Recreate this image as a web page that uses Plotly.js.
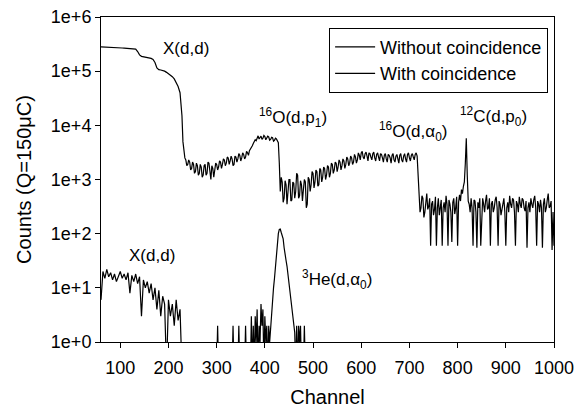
<!DOCTYPE html>
<html>
<head>
<meta charset="utf-8">
<script src="https://cdn.plot.ly/plotly-3.0.1.min.js"></script>
<style>html,body{margin:0;padding:0;background:#fff;}#chart{width:582px;height:408px;}</style>
</head>
<body>
<div id="chart"></div>
<script>
// ---- Without coincidence ----
// plateau region (X(d,d) elastic), channels 60-228
const chanPlateau = [
60,64,68,72,76,80,84,88,92,96,
100,104,108,112,116,120,124,128,132,136,
140,144,148,152,156,160,164,168,172,176,
180,184,188,192,196,200,204,208,212,216,
220,224,228];
const countsPlateau = [
280000,278000,277000,276000,275000,275000,274000,273000,272000,271000,
270000,268000,267000,265000,264000,263000,262000,260000,255000,230000,
200000,188000,185000,182000,180000,177000,172000,165000,145000,115000,
107000,105000,103000,100000,95000,90000,85000,79000,72000,63000,
52000,40000,15000];
// middle region, channels 230-720
const chanMiddle = [
230,232,234,236,238,240,242,244,246,248,
250,252,254,256,258,260,262,264,266,268,
270,272,274,276,278,280,282,284,286,288,
290,292,294,296,298,300,302,304,306,308,
310,312,314,316,318,320,322,324,326,328,
330,332,334,336,338,340,342,344,346,348,
350,352,354,356,358,360,362,364,366,368,
370,372,374,376,378,380,382,384,386,388,
390,392,394,396,398,400,402,404,406,408,
410,412,414,416,418,420,422,424,426,428,
430,432,434,436,438,440,442,444,446,448,
450,452,454,456,458,460,462,464,466,468,
470,472,474,476,478,480,482,484,486,488,
490,492,494,496,498,500,502,504,506,508,
510,512,514,516,518,520,522,524,526,528,
530,532,534,536,538,540,542,544,546,548,
550,552,554,556,558,560,562,564,566,568,
570,572,574,576,578,580,582,584,586,588,
590,592,594,596,598,600,602,604,606,608,
610,612,614,616,618,620,622,624,626,628,
630,632,634,636,638,640,642,644,646,648,
650,652,654,656,658,660,662,664,666,668,
670,672,674,676,678,680,682,684,686,688,
690,692,694,696,698,700,702,704,706,708,
710,712,714,716,718,720];
const countsMiddle = [
5000,2900,2500,2300,1800,1900,2300,2100,1500,1600,
2100,1900,1300,1400,2000,1800,1200,1300,1900,1700,
1100,1200,1800,1900,1200,1300,2100,2000,1300,1000,
1800,1600,1100,1400,2000,1900,1500,1700,2200,2100,
1600,1900,2400,2300,1800,2000,2600,2500,1900,2200,
2700,2400,1800,1900,2700,2600,2100,2400,3000,2800,
2200,2500,3100,2900,2400,2600,3300,3100,2800,3400,
3600,3900,4200,4600,5000,5400,5200,5900,6400,5600,
5900,6300,5500,5800,6500,6200,5400,5700,6300,6100,
5300,5500,6000,5900,5100,5300,5800,5600,5000,4800,
2000,600,1100,900,380,450,950,800,350,550,
1000,1000,400,420,900,850,450,600,1300,1200,
450,500,950,800,400,650,1000,900,300,350,
1100,1000,600,800,1400,1300,700,900,1500,1400,
750,800,1600,1500,900,1100,1700,1600,1000,1200,
1800,1700,1100,1300,2000,1900,1300,1500,2100,2000,
1400,1700,2300,2100,1500,1800,2400,2200,1600,1900,
2600,2400,1800,2000,2700,2500,1900,2100,2900,2600,
2000,2300,3100,2800,2300,3100,3300,2600,2400,3000,
3200,2700,2200,3100,3000,2600,2300,3000,3200,2500,
2200,2900,3100,2600,2200,3000,2900,2500,2100,2800,
3000,2400,2100,2900,2800,2500,2000,2800,3000,2300,
2100,2700,2900,2400,2000,2800,3000,2300,2100,2700,
3000,2400,2100,2900,3100,2500,2200,2800,3000,2600,
2300,2900,3100,2700,1200,450];
// high-channel region incl. 12C(d,p0), channels 722-1000
const chanHigh = [
722,724,726,728,730,732,734,736,738,740,
742,744,746,748,750,752,754,756,758,760,
762,764,766,768,770,772,774,776,778,780,
782,784,786,788,790,792,794,796,798,800,
802,804,806,808,810,812,814,816,818,820,
822,824,826,828,830,832,834,836,838,840,
842,844,846,848,850,852,854,856,858,860,
862,864,866,868,870,872,874,876,878,880,
882,884,886,888,890,892,894,896,898,900,
902,904,906,908,910,912,914,916,918,920,
922,924,926,928,930,932,934,936,938,940,
942,944,946,948,950,952,954,956,958,960,
962,964,966,968,970,972,974,976,978,980,
982,984,986,988,990,992,994,996,998,1000];
const countsHigh = [
250,300,500,450,200,250,400,550,280,320,
450,60,350,400,220,280,480,60,300,450,
220,300,420,60,300,380,250,500,350,60,
420,350,250,70,380,450,230,300,480,60,
380,520,400,650,550,750,900,2000,5800,1200,
400,350,250,450,300,60,420,400,250,55,
380,300,450,60,300,450,350,250,400,520,
280,300,450,60,350,400,250,300,420,480,
300,60,400,350,220,280,380,450,250,60,
300,380,250,500,350,300,450,420,250,60,
400,350,250,480,350,300,450,420,300,260,
400,55,300,380,250,450,350,300,420,500,
300,60,400,350,250,420,300,55,350,450,
250,300,420,550,300,320,400,50,250,60];

// ---- With coincidence (values below 1 = empty channels) ----
const chanWith = [
60,62,64,68,72,76,80,84,88,92,96,100,104,108,112,116,120,124,128,132,
136,140,144,148,152,156,160,164,168,172,176,180,184,188,192,196,200,204,208,212,
216,220,224,226,228,
300,302,304,332,334,336,344,346,348,358,360,362,370,372,374,376,378,380,382,384,
386,388,390,392,394,396,398,400,402,404,406,408,410,412,414,416,418,420,422,424,
426,428,430,432,434,436,438,440,442,444,446,448,450,452,454,456,458,460,462,464,
466,468,470,472,474,476,480,482,484];
const countsWith = [
6,12,20,15,22,16,19,14,18,13,17,20,15,18,14,19,8,17,13,18,
12,16,3,14,10,13,8,12,6,10,4,9,3,7,5,0.3,6,3,5,2,
6,2.5,4,1.7,0.3,
0.3,2,0.3,0.3,2,0.3,0.3,2,0.3,0.3,2,0.3,0.3,3,0.3,2,0.3,3,1,4,
0.3,2,1,5,2,4,0.3,3,1,2,0.3,2,1,2,3,6,10,15,25,45,
70,100,120,122,105,95,80,55,45,32,25,18,12,8,6,4.5,3,2,1.5,0.3,
2,0.3,2,1,2,0.3,0.3,2,0.3];

const xTicks = [100,200,300,400,500,600,700,800,900,1000];
const yTickVals = [1,10,100,1000,10000,100000,1000000];
const yTickText = ['1e+0','1e+1','1e+2','1e+3','1e+4','1e+5','1e+6'];

const FONT = 'Liberation Sans, Arial, sans-serif';

const chanWithout = chanPlateau.concat(chanMiddle, chanHigh);
const countsWithout = countsPlateau.concat(countsMiddle, countsHigh);

const traces = [
  {x: chanWithout, y: countsWithout, type: 'scatter', mode: 'lines', name: 'Without coincidence',
   line: {color: '#000', width: 1.2}},
  {x: chanWith, y: countsWith, type: 'scatter', mode: 'lines', name: 'With coincidence',
   line: {color: '#000', width: 1.2}}
];

const annFont = {family: FONT, size: 17, color: '#000'};
const annotations = [
  {x: 237, y: 5.41, text: 'X(d,d)'},
  {x: 458.5, y: 4.15, text: '<sup>16</sup>O(d,p<sub>1</sub>)'},
  {x: 707, y: 3.88, text: '<sup>16</sup>O(d,α<sub>0</sub>)'},
  {x: 874, y: 4.16, text: '<sup>12</sup>C(d,p<sub>0</sub>)'},
  {x: 166.6, y: 1.59, text: 'X(d,d)'},
  {x: 549, y: 1.145, text: '<sup>3</sup>He(d,α<sub>0</sub>)'}
].map(a => Object.assign({xref: 'x', yref: 'y', showarrow: false, font: annFont,
  xanchor: 'center', yanchor: 'middle'}, a));

const layout = {
  width: 582, height: 408,
  margin: {l: 101, r: 28, t: 17, b: 66},
  paper_bgcolor: '#fff', plot_bgcolor: '#fff',
  font: {family: FONT, size: 18, color: '#000'},
  showlegend: true,
  legend: {x: 0.987, y: 0.967, xanchor: 'right', yanchor: 'top',
    bgcolor: '#fff', bordercolor: '#000', borderwidth: 1,
    font: {family: FONT, size: 18, color: '#000'}, itemwidth: 40, tracegroupgap: 0},
  xaxis: {range: [60, 1000], tickvals: xTicks, ticks: 'outside', ticklen: 5, tickwidth: 1,
    tickcolor: '#000', showline: true, linecolor: '#000', linewidth: 1, mirror: true,
    showgrid: false, zeroline: false, tickfont: {family: FONT, size: 18},
    ticklabelstandoff: 4,
    title: {text: 'Channel', font: {family: FONT, size: 20}, standoff: 14}},
  yaxis: {type: 'log', range: [0, 6], tickvals: yTickVals, ticktext: yTickText,
    ticks: 'outside', ticklen: 5, tickwidth: 1, tickcolor: '#000', showline: true,
    linecolor: '#000', linewidth: 1, mirror: true, showgrid: false, zeroline: false,
    tickfont: {family: FONT, size: 18},
    title: {text: 'Counts (Q=150μC)', font: {family: FONT, size: 20}, standoff: 13}},
  annotations: annotations
};

Plotly.newPlot('chart', traces, layout, {staticPlot: true, displayModeBar: false});
</script>
</body>
</html>
